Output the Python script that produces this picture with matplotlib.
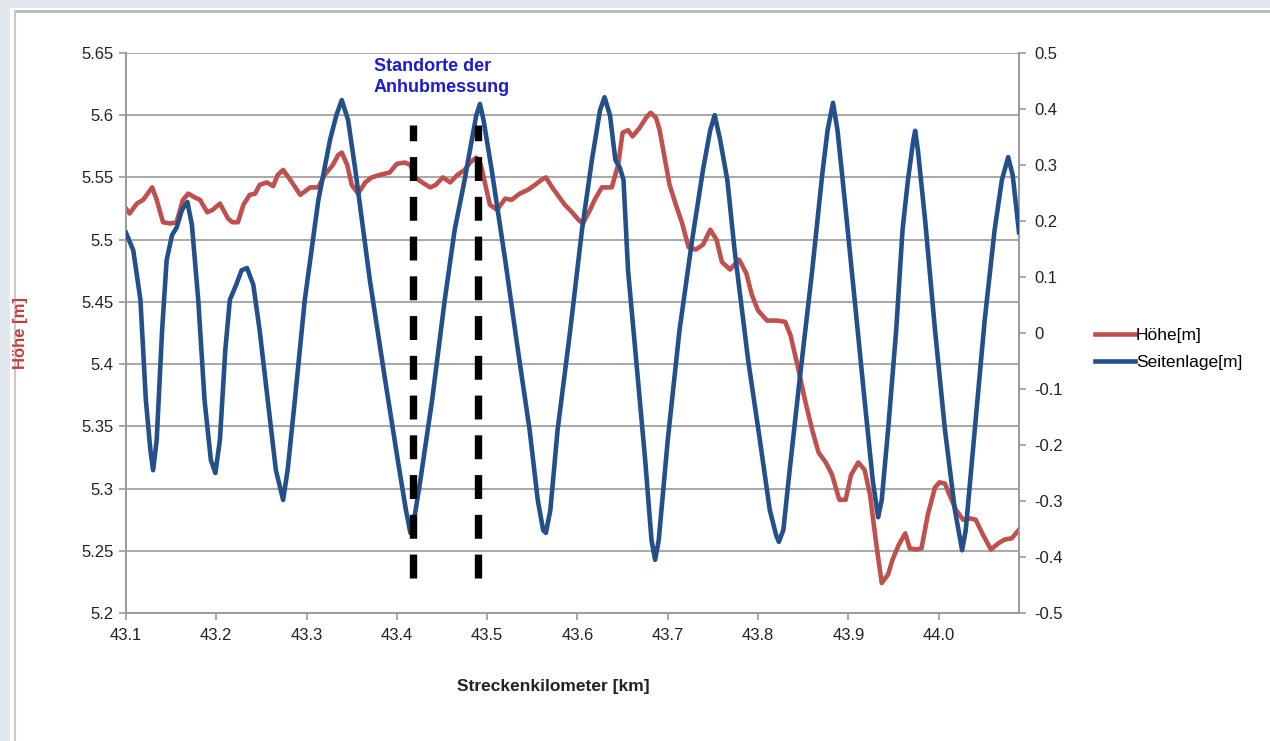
import numpy as np
import matplotlib.pyplot as plt
from matplotlib.patches import Rectangle

plt.rcParams['font.family'] = ['Liberation Sans', 'DejaVu Sans']

# Seitenlage [m] (right axis)
seite_km = [43.100, 43.108, 43.116, 43.122, 43.127, 43.130, 43.134, 43.140, 43.145, 43.151,
            43.156, 43.162, 43.168, 43.173, 43.180, 43.187, 43.194, 43.199, 43.204, 43.210,
            43.215, 43.222, 43.228, 43.234, 43.241, 43.248, 43.257, 43.266, 43.274, 43.279,
            43.287, 43.298, 43.313, 43.326, 43.333, 43.339, 43.346, 43.354, 43.370, 43.387,
            43.401, 43.410, 43.415, 43.419, 43.426, 43.439, 43.453, 43.464, 43.475, 43.483,
            43.488, 43.492, 43.496, 43.505, 43.520, 43.534, 43.547, 43.556, 43.562, 43.565,
            43.570, 43.578, 43.592, 43.605, 43.616, 43.625, 43.630, 43.636, 43.642, 43.647,
            43.651, 43.656, 43.664, 43.675, 43.682, 43.686, 43.690, 43.700, 43.713, 43.727,
            43.739, 43.747, 43.752, 43.758, 43.766, 43.774, 43.789, 43.802, 43.813, 43.820,
            43.823, 43.828, 43.835, 43.846, 43.860, 43.871, 43.877, 43.883, 43.888, 43.896,
            43.907, 43.918, 43.927, 43.933, 43.937, 43.944, 43.953, 43.960, 43.966, 43.972,
            43.974, 43.977, 43.985, 43.996, 44.007, 44.018, 44.026, 44.030, 44.040, 44.051,
            44.062, 44.070, 44.077, 44.082, 44.089]
seite_val = [0.179, 0.148, 0.059, -0.120, -0.209, -0.245, -0.191, 0.005, 0.130, 0.175,
             0.188, 0.220, 0.234, 0.193, 0.059, -0.120, -0.227, -0.250, -0.191, -0.030,
             0.059, 0.086, 0.112, 0.116, 0.086, 0.005, -0.120, -0.245, -0.298, -0.245,
             -0.120, 0.059, 0.237, 0.345, 0.389, 0.416, 0.380, 0.291, 0.095, -0.084,
             -0.227, -0.316, -0.357, -0.334, -0.263, -0.120, 0.059, 0.184, 0.273, 0.345,
             0.389, 0.409, 0.380, 0.291, 0.130, -0.030, -0.173, -0.298, -0.352, -0.357,
             -0.316, -0.173, 0.005, 0.184, 0.309, 0.398, 0.421, 0.389, 0.309, 0.295,
             0.273, 0.112, -0.030, -0.227, -0.370, -0.405, -0.370, -0.191, 0.005, 0.166,
             0.291, 0.362, 0.389, 0.345, 0.273, 0.148, -0.048, -0.191, -0.316, -0.361,
             -0.373, -0.352, -0.245, -0.084, 0.112, 0.282, 0.362, 0.411, 0.362, 0.237,
             0.059, -0.120, -0.263, -0.329, -0.298, -0.173, 0.005, 0.184, 0.273, 0.345,
             0.361, 0.327, 0.202, 0.005, -0.173, -0.316, -0.388, -0.352, -0.173, 0.023,
             0.184, 0.273, 0.314, 0.282, 0.180]

# Höhe [m] (left axis)
hoehe_km = [43.100, 43.104, 43.112, 43.119, 43.129, 43.134, 43.141, 43.149, 43.156, 43.163,
            43.169, 43.176, 43.182, 43.190, 43.196, 43.204, 43.213, 43.218, 43.224, 43.230,
            43.237, 43.243, 43.248, 43.256, 43.263, 43.268, 43.274, 43.282, 43.293, 43.304,
            43.313, 43.320, 43.329, 43.335, 43.339, 43.345, 43.350, 43.357, 43.365, 43.372,
            43.381, 43.392, 43.400, 43.409, 43.415, 43.420, 43.428, 43.437, 43.443, 43.451,
            43.459, 43.467, 43.475, 43.481, 43.488, 43.493, 43.498, 43.503, 43.511, 43.520,
            43.527, 43.536, 43.545, 43.553, 43.560, 43.565, 43.572, 43.578, 43.586, 43.594,
            43.601, 43.606, 43.614, 43.619, 43.627, 43.638, 43.645, 43.650, 43.656, 43.661,
            43.669, 43.676, 43.681, 43.687, 43.691, 43.697, 43.702, 43.709, 43.716, 43.723,
            43.731, 43.739, 43.747, 43.754, 43.760, 43.769, 43.779, 43.787, 43.793, 43.800,
            43.810, 43.821, 43.830, 43.836, 43.844, 43.852, 43.860, 43.867, 43.875, 43.882,
            43.890, 43.897, 43.903, 43.911, 43.918, 43.924, 43.931, 43.937, 43.944, 43.949,
            43.956, 43.963, 43.968, 43.975, 43.981, 43.988, 43.996, 44.001, 44.007, 44.012,
            44.019, 44.027, 44.035, 44.041, 44.049, 44.058, 44.066, 44.073, 44.081, 44.089]
hoehe_val = [5.525, 5.521, 5.529, 5.532, 5.542, 5.532, 5.514, 5.513, 5.514, 5.532,
             5.537, 5.534, 5.532, 5.522, 5.524, 5.529, 5.517, 5.514, 5.514, 5.528,
             5.536, 5.537, 5.544, 5.546, 5.543, 5.552, 5.556, 5.548, 5.536, 5.542,
             5.542, 5.552, 5.560, 5.568, 5.570, 5.560, 5.544, 5.537, 5.546, 5.550,
             5.552, 5.554, 5.561, 5.562, 5.560, 5.550, 5.546, 5.542, 5.544, 5.550,
             5.546, 5.552, 5.556, 5.562, 5.566, 5.560, 5.544, 5.528, 5.524, 5.533,
             5.532, 5.537, 5.540, 5.544, 5.548, 5.550, 5.542, 5.536, 5.528, 5.522,
             5.516, 5.513, 5.524, 5.532, 5.542, 5.542, 5.560, 5.586, 5.588, 5.583,
             5.590, 5.598, 5.602, 5.598, 5.588, 5.564, 5.544, 5.528, 5.513, 5.494,
             5.492, 5.496, 5.508, 5.500, 5.482, 5.476, 5.484, 5.473, 5.456, 5.443,
             5.435, 5.435, 5.434, 5.423, 5.398, 5.371, 5.347, 5.329, 5.321, 5.311,
             5.291, 5.291, 5.311, 5.321, 5.315, 5.295, 5.255, 5.224, 5.231, 5.243,
             5.255, 5.264, 5.252, 5.251, 5.252, 5.279, 5.301, 5.305, 5.304, 5.295,
             5.283, 5.275, 5.276, 5.275, 5.263, 5.251, 5.256, 5.259, 5.260, 5.267]

# Standorte der Anhubmessung
standorte_km = [43.418, 43.490]
standorte_von, standorte_bis = 5.228, 5.592

x_ticks = [43.1, 43.2, 43.3, 43.4, 43.5, 43.6, 43.7, 43.8, 43.9, 44.0]
left_ticks = [5.2, 5.25, 5.3, 5.35, 5.4, 5.45, 5.5, 5.55, 5.6, 5.65]
right_ticks = [-0.5, -0.4, -0.3, -0.2, -0.1, 0, 0.1, 0.2, 0.3, 0.4, 0.5]

red = '#c0504d'
blue = '#23508a'
grid = '#9a9a9a'

fig = plt.figure(figsize=(12.7, 7.41), dpi=100, facecolor='#e3e8ee')
fig.patches.append(Rectangle((10 / 1270, 0), 1, 1 - 8 / 741, transform=fig.transFigure,
                             facecolor='white', edgecolor='none', zorder=-2))
fig.lines.append(plt.Line2D([15 / 1270, 1], [1 - 11 / 741] * 2, transform=fig.transFigure,
                            color='#b8b8b8', lw=2))
fig.lines.append(plt.Line2D([15 / 1270] * 2, [0, 1 - 11 / 741], transform=fig.transFigure,
                            color='#c8c8c8', lw=1.5))

ax = fig.add_axes([126 / 1270, 1 - 613 / 741, (1019 - 126) / 1270, (613 - 53) / 741])
ax2 = ax.twinx()

ax.set_xlim(43.1, 44.089)
ax.set_ylim(5.2, 5.65)
ax2.set_ylim(-0.5, 0.5)

ax.set_yticks(left_ticks)
ax.set_yticklabels(['%g' % t for t in left_ticks])
ax2.set_yticks(right_ticks)
ax2.set_yticklabels(['%g' % t for t in right_ticks])
ax.set_xticks(x_ticks)
ax.set_xticklabels(['%.1f' % t for t in x_ticks])

for t in left_ticks[1:]:
    ax.axhline(t, color=grid, lw=1.2, zorder=0)

for a in (ax, ax2):
    a.set_facecolor('none')
    a.spines['top'].set_visible(False)
    for s in ('left', 'right', 'bottom'):
        a.spines[s].set_color(grid)
        a.spines[s].set_linewidth(1.2)
    a.tick_params(axis='both', colors=grid, labelcolor='#222222', labelsize=12,
                  length=5, width=1.2, direction='out')
ax.tick_params(axis='x', pad=6)
ax.tick_params(axis='y', pad=4)
ax2.tick_params(axis='y', pad=6)

ax2.set_zorder(1)
l1, = ax.plot(hoehe_km, hoehe_val, color=red, lw=3.3, label='Höhe[m]', zorder=3)
l2, = ax2.plot(seite_km, seite_val, color=blue, lw=3.3, label='Seitenlage[m]', zorder=3)

for km in standorte_km:
    ax2.plot([km, km], [(standorte_von - 5.2) / 0.45 - 0.5, (standorte_bis - 5.2) / 0.45 - 0.5],
             color='black', lw=5.3, dashes=(3.25, 2.15), solid_capstyle='butt',
             dash_capstyle='butt', zorder=4)

ax.text(43.3746, 5.646, 'Standorte der\nAnhubmessung', color='#1c1cd0', fontsize=13,
        fontweight='bold', va='top', ha='left', linespacing=1.3, zorder=5)

fig.text(20 / 1270, 1 - 333 / 741, 'Höhe [m]', color='#c83c3c', fontsize=12,
         fontweight='bold', rotation=90, ha='center', va='center')
fig.text(553 / 1270, 1 - 686 / 741, 'Streckenkilometer [km]', color='#222222',
         fontsize=12.5, fontweight='bold', ha='center', va='center')

fig.legend(handles=[l1, l2], loc='center left', bbox_to_anchor=(1088 / 1270, 1 - 349 / 741),
           frameon=False, fontsize=12.5, handlelength=2.3, handletextpad=0.05,
           labelspacing=0.7, borderaxespad=0)

fig.savefig('out.png', dpi=100, facecolor=fig.get_facecolor())
